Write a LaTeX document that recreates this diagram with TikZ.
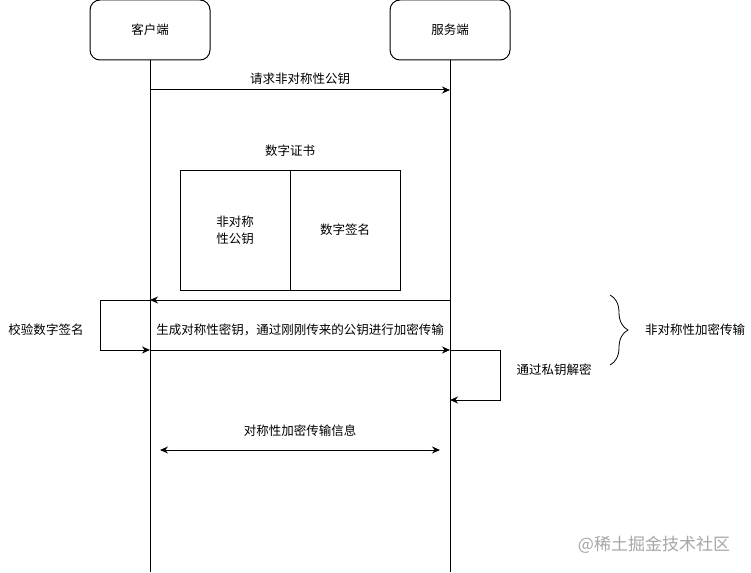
\documentclass[tikz,border=0pt]{standalone}
\usepackage{fontspec}
\setmainfont{Noto Sans CJK SC}
\usetikzlibrary{calc}
\usetikzlibrary{decorations.pathreplacing}
\usetikzlibrary{arrows.meta}

\tikzset{
  actor/.style = {draw, rounded corners=10pt, minimum width=120pt, minimum height=60pt},
  msg/.style = {-{Stealth[length=8pt, width=7pt]}},
  certbox/.style = {draw, minimum width=110pt, minimum height=120pt, align=center},
}

\begin{document}
\begin{tikzpicture}[x=1pt, y=-1pt, line width=1pt, font=\fontsize{12.5}{17}\selectfont]
\useasboundingbox (0,0) rectangle (751,572);

\node[actor] (n1) at (150,30) {客户端};
\node[actor] (n2) at (450,30) {服务端};
\coordinate (e1) at (150,572);
\coordinate (e2) at (450,572);
\draw (n1) -- (e1);
\draw (n2) -- (e2);

% request
\coordinate (a1) at (150,90);
\coordinate (b1) at (450,90);
\draw[msg] (a1) -- (b1);
\node (t1) at (300,79) {请求非对称性公钥};

% certificate
\node (t2) at (290,151) {数字证书};
\node[certbox] (k1) at (235,230) {非对称\\性公钥};
\node[certbox] (k2) at (345,230) {数字签名};

% reply and check
\coordinate (a2) at (150,300);
\coordinate (b2) at (450,300);
\coordinate (a3) at (150,350);
\coordinate (b3) at (450,350);
\coordinate (b4) at (450,400);
\draw[msg] (b2) -- (a2);
\draw[msg] (a2) -- ++(-50,0) |- (a3);
\node (t3) at (46,330) {校验数字签名};

\draw[msg] (a3) -- (b3);
\node (t4) at (300,330) {生成对称性密钥，通过刚刚传来的公钥进行加密传输};

\draw[msg] (b3) -- ++(50,0) |- (b4);
\node (t5) at (554,370) {通过私钥解密};

% brace
\coordinate (d1) at (610,295);
\coordinate (d2) at (610,365);
\draw[line width=0.8pt, decorate, decoration={brace, amplitude=18pt}] (d1) -- (d2);
\node (t6) at (695,330) {非对称性加密传输};

% symmetric
\coordinate (a5) at (160,450);
\coordinate (b5) at (440,450);
\draw[{Stealth[length=8pt, width=7pt]}-{Stealth[length=8pt, width=7pt]}] (a5) -- (b5);
\node (t7) at (300,431) {对称性加密传输信息};

\node[text=black!35, font=\fontsize{17}{20}\selectfont] (w1) at (654,545) {@稀土掘金技术社区};

\end{tikzpicture}
\end{document}
